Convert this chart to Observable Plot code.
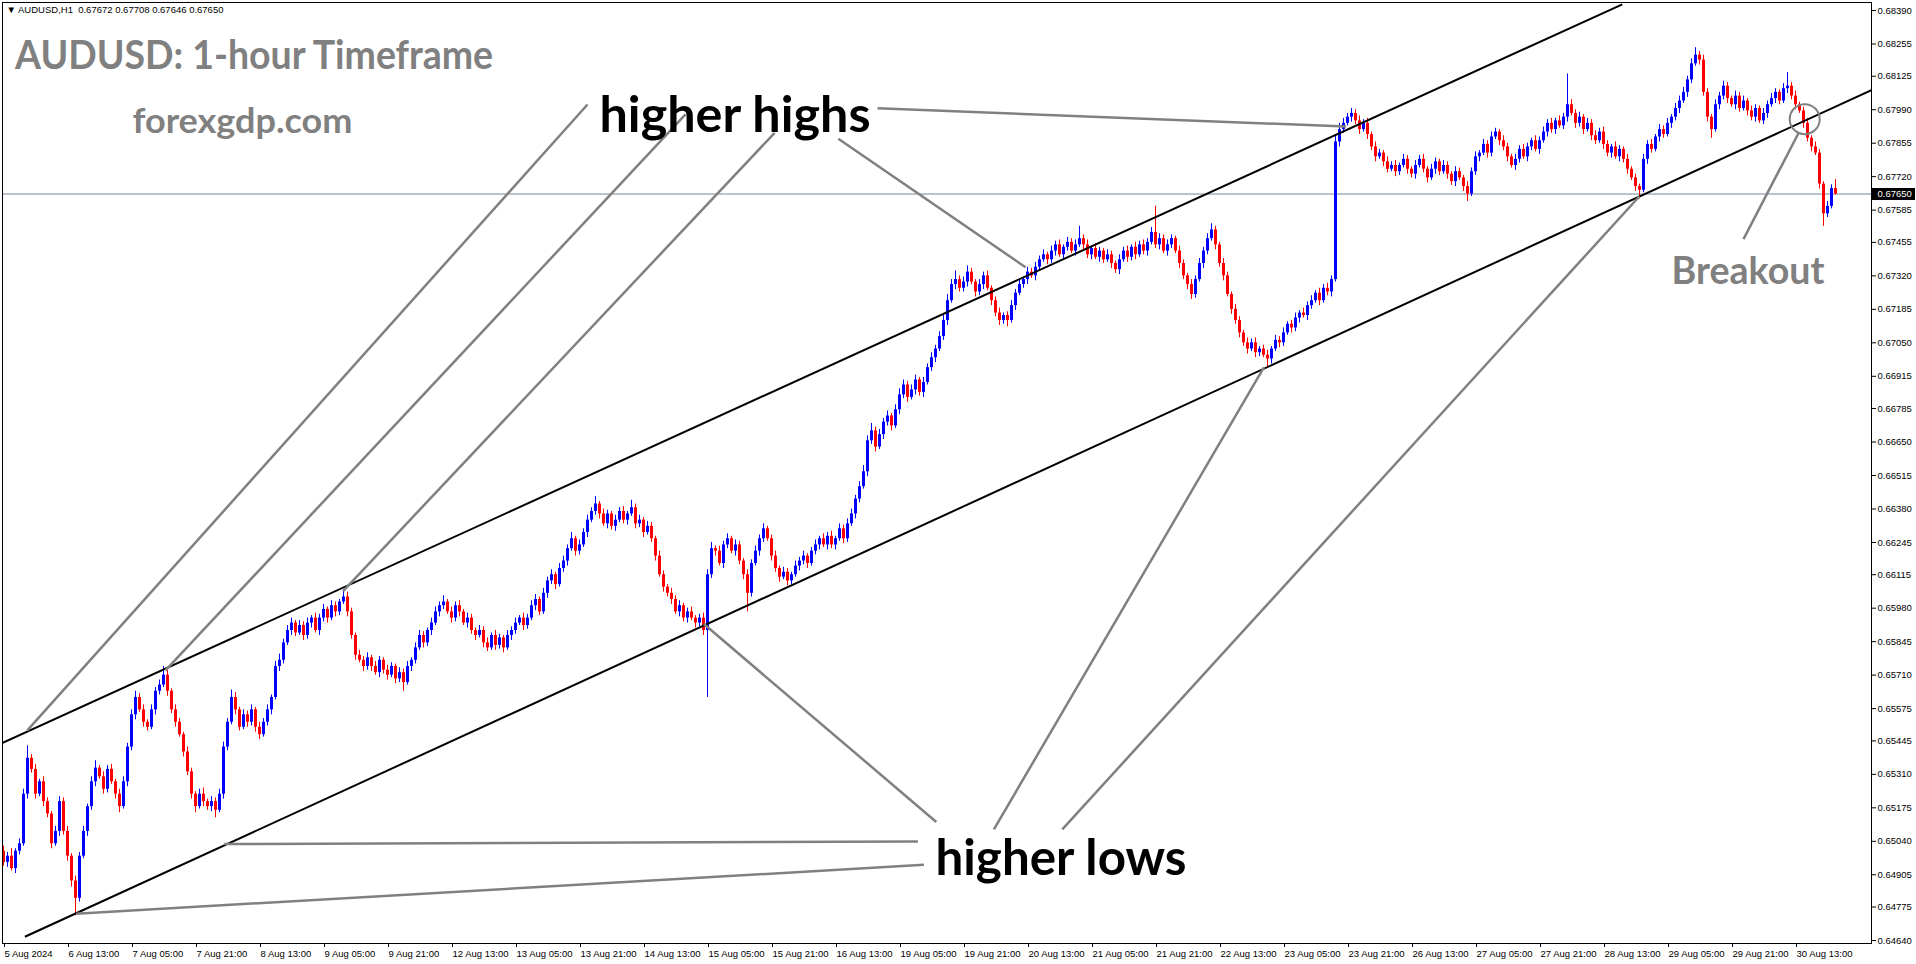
<!DOCTYPE html>
<html><head><meta charset="utf-8">
<script src="https://cdn.jsdelivr.net/npm/d3@7"></script>
<script src="https://cdn.jsdelivr.net/npm/@observablehq/plot@0.6"></script>
<style>html,body{margin:0;padding:0;background:#fff;overflow:hidden}#chart svg{display:block}</style>
</head><body><div id="chart"></div>
<script>
// ---------- DATA (prices in pips = price × 10 000) ----------
const symbolHeader = "\u25BC AUDUSD,H1  0.67672 0.67708 0.67646 0.67650";
const firstOpen = 6500;
// hourly closes, bar 0 = 5 Aug 21:00
const closes = [
6495.5,6498,6493,6500,6503,6523,6537.5,6533,6523,6528,6520,6515,6503,6508,6520,6508,6498,6488,6481,6498,
6508,6518,6528,6533.5,6530,6525,6533,6528,6523,6518,6528,6542,6555,6562,6557,6552,6550,6557,6564.5,6567,
6571,6564.5,6557,6552,6547,6540,6532,6523,6518,6523,6520,6518,6520,6516.5,6523,6542,6552,6562,6557,6550,
6555,6552,6557,6550,6547,6552,6557,6562,6574.5,6577,6584,6589,6592,6588,6591,6587,6592,6594,6589,6594,
6597.5,6594,6599,6596.5,6600.5,6602.5,6596.5,6587,6579,6577,6574.5,6578,6574.5,6572,6577,6573,6571,6574.5,6569.5,6572,
6568,6574.5,6577,6582,6587,6584,6589,6592,6596.5,6599,6600.5,6596.5,6594,6599,6596.5,6592,6594,6589,6587,6589,
6584,6582,6587,6583,6586,6582,6587,6589,6592,6594,6591,6594,6599,6601.5,6596.5,6604,6609,6611.5,6607.5,6614,
6617,6622,6626,6621,6623.5,6628.5,6633.5,6637,6640,6636,6632,6636,6631,6633.5,6637,6633.5,6636,6638.5,6632,6633.5,
6628.5,6631,6626,6619,6611.5,6606.5,6604,6601.5,6596.5,6599,6594,6596.5,6594,6592,6594,6589,6611.5,6622,6621,6616,
6623.5,6626,6621,6623.5,6617,6611.5,6604,6616,6621,6626,6630,6626,6619,6614,6610.5,6612.5,6609,6611.5,6615,6617,
6619,6616,6621,6623.5,6626,6623.5,6627,6623.5,6626,6630,6626,6632,6636,6642,6647,6653,6665.5,6669.5,6663,6668,
6673,6675.5,6671.5,6678,6684,6688,6683,6686,6690,6685,6689,6695,6699,6702.5,6707.5,6714,6722,6728.5,6730.5,6727,
6729.5,6733.5,6729.5,6725.5,6728.5,6732,6727,6722,6717,6714,6716,6714,6720,6725,6728.5,6730.5,6733.5,6732,6735.5,6738.5,
6740.5,6738.5,6742,6744.5,6740.5,6743.5,6745.5,6742,6744.5,6747,6744.5,6740.5,6743,6739.5,6742,6738.5,6740.5,6737,6734.5,6738.5,
6742,6739.5,6743.5,6740.5,6744.5,6742,6745.5,6749.5,6744.5,6747,6742,6744.5,6747,6742,6737,6732,6728.5,6724.5,6730.5,6737,
6742,6747,6750.5,6744.5,6737,6732,6724.5,6718.5,6714,6709,6705,6702.5,6705,6701,6702.5,6700,6698.5,6702.5,6706,6705,
6709,6712.5,6711,6715,6717,6716,6720,6722,6725,6722,6727,6725.5,6730.5,6786,6791,6793.5,6796,6797.5,6794.5,6791,
6793.5,6789,6784,6780,6781.5,6778,6775,6776.5,6774,6776.5,6779,6775,6773,6776.5,6779,6775,6771.5,6775,6778,6774,
6776.5,6773,6770,6774,6771.5,6768,6765,6774,6780,6781.5,6785,6781.5,6788,6790,6786.5,6784,6780,6776.5,6779,6783,
6780,6784,6786.5,6783,6786.5,6790,6793.5,6791,6794.5,6792.5,6796,6801,6797.5,6793.5,6796,6791,6793.5,6788.5,6786.5,6790,
6785,6781.5,6784,6780,6783,6779,6775,6771.5,6768,6766.5,6779,6785,6783,6788,6791,6789,6793.5,6796,6799.5,6802.5,
6806,6811,6817.5,6821,6819,6806,6796,6791,6801,6804.5,6808.5,6803.5,6801,6804.5,6799.5,6802.5,6798.5,6796,6799.5,6794.5,
6797.5,6801,6803.5,6806,6802.5,6807.5,6808.5,6804.5,6801,6798.5,6793.5,6787.5,6784,6781.5,6769,6757,6760,6767.2,6765
];
// upper wick above the body (pips)
const upperWicks = [
2,1.5,3,1,2,2,5,1.5,2,1,2,1.5,1,2,2,1.5,2,1,2,1.5,
2,1,2,3,1,2,1.5,2,1,2,2,1.5,2,2.5,1.5,2,1,2,1.5,2,
3.5,2,1,2,1.5,1,2,1.5,1,2,2.5,1,2,1.5,2,2,1.5,3,2,1,
2,1.5,2,1,2,1.5,2,1,2,2.5,1.5,2,2,1,2,1.5,2,1,2,1.5,
2,1,2,1.5,1,3,2,1.5,1,2,1.5,2,1,2,1.5,1,2,1.5,1,2,
1.5,2,1,2,2,1.5,1,2,2,1.5,2.5,1,2,1.5,2,1,2,1.5,1,2,
1.5,2,1,2,1.5,1,2,1.5,2,1,2,1.5,2,2,1,2,1.5,2,1,2,
2,1.5,2.5,1,2,1.5,2,1.5,3,1,2,1.5,1,2,1.5,2,1,3,1.5,2,
1,2,1.5,1,2,1.5,1,2,1.5,2,1,1.5,2,1,1.5,2,2,2.5,1,2,
1.5,2,1,2,1.5,1,2,1.5,2,1.5,2,1,1.5,2,1,2,1.5,1,2,1.5,
2,1,1.5,2,1,2,1.5,2,1,2,1.5,2,2,1.5,2,2.5,2,3,1.5,2,
1.5,2,1,2,2.5,2,1.5,2,2,1,2,1.5,2,1.5,2,2,2.5,2,3.5,1.5,
2,2.5,1.5,1,2,1.5,2,1,1.5,2,1,1.5,2,1.5,2,1,2,1.5,2,1.5,
2,1,2,1.5,2,1,2,1.5,2,5,1.5,2,1,2,1.5,1,2,1.5,1,2,
1.5,2,1,2,1.5,2,1.5,2,10.5,2,1.5,2,1.5,1,2,1.5,1,2,1.5,2,
1.5,2,2.5,1.5,1,2,1.5,1,2,1.5,1,2,1.5,2,1,1.5,2,1,2,1.5,
2,1,1.5,2,1,2,1.5,2,1,2,1.5,2,1.5,3,2.5,2,1.5,2,1.5,2,
1.5,2,1,2,1.5,1,2,1.5,2,1,2,1.5,1,2,1.5,2,1,2,1.5,1,
2,1.5,1,2,1.5,1,2,1.5,2,1,2,1.5,2,1.5,1,2,1.5,1,2,1.5,
2,1.5,1,2,1.5,2,1.5,2,1,2,1.5,12.4,2,1.5,2,1,2,1.5,2,1.5,
2,1.5,1,2,1.5,1,2,1,1.5,1,2,1.5,2,1,2,1.5,2,1,2,2,
2,1.5,2,3,1.5,2,1.5,1,2,1.5,2,1.5,1,2,1.5,2,1,2,1.5,1,
2,1.5,2,1.5,1,2,5.5,1.5,2,1,1.5,2,1,2,1.5,1,2,1.5,3.6
];
// lower wick below the body (pips)
const lowerWicks = [
1.5,2,1,2,1.5,1,2,1.5,2,1,2,1.5,2,1,2,1.5,2,2.5,7,1.5,
1,2,1.5,2,1,2,1.5,1,2,2.5,1,2,1.5,2,1,2,1.5,1,2,1.5,
1,2,1.5,2,1,2,1.5,2,2.5,1,2,1.5,2,3,1,2,1.5,1,2,1.5,
1,2,1.5,2,2,1,1.5,2,1,2,1.5,1,2,1.5,1,2,1.5,2,1,2,
1.5,2,1,2,1.5,1,2,1.5,2,1,2,1.5,2,1,2,1.5,2,1,2,1.5,
3.5,1,2,1.5,1,2,1.5,2,1,2,1.5,1,2,1.5,2,1,2,1.5,2,1,
2,1.5,1,2,1.5,2,1,2,1.5,1,2,1.5,1,2,1.5,1,2,1.5,2,1,
1.5,2,1,2,1.5,1,2,1,1.5,2,1,2,1.5,2,1,1.5,2,1,2,1.5,
2,1,1.5,2,1,2,1.5,2,1,2,1.5,2,1,2,1.5,2,27,1.5,2,1,
2,1.5,1,2,1.5,2,7.5,1.5,1,2,1.5,1,2,1.5,2,1,2,1.5,1,2,
1.5,2,1,1.5,2,1,2,1.5,2,1,2,1.5,1,2,1.5,1,2,1.5,2,1,
2,1.5,2,1,2,1.5,2,1,2,1.5,2,1,1.5,2,1,1.5,2,1,2,1.5,
1.5,2,1,2,1.5,2,1,2,1.5,2,1.5,2.5,1,2,1,1.5,2,1,2,1.5,
1,2,1.5,2,1,2,1.5,1,2,1,2,1.5,2,1,2,1.5,1,2,1.5,2,
1,2,1.5,2,1,1.5,2,1,1.5,2,1,2,1.5,1,2,1.5,2,2,1.5,1,
2,1.5,1,2,1.5,2,1,2,1.5,2,1.5,2,1,2,1.5,1,3.5,2,1,2,
1.5,1,2,1.5,2,1,2,1.5,1,2,1,1.5,2,1,2,1.5,1,2,1.5,2,
1,2,1.5,2,1,2,1.5,1,2,1.5,1,2,1.5,2,1,1.5,2,1,2,1.5,
1,2,1.5,2,1,2,3,1,1.5,2,1,2,1.5,1,2,1.5,2,1,2,1.5,
1,2,1.5,1,2,1,2,1.5,2,1,1.5,2,1,2,1.5,2,1,2,1.5,1,
2,1.5,2,1,2,1.5,2,1,2,3.5,1,2,1.5,1,2,1.5,1,2,1.5,2,
1,2,1.5,1,2,1.5,2,3.5,1,2,1.5,2,1,2,1.5,1,2,1.5,2,1,
1.5,2,1,2,1.5,1,2,1.5,2,1,2,1.5,2,1,2,5,1.5,1,0.4
];
const xTickBars = [0,16,32,48,64,80,96,112,128,144,160,176,192,208,224,240,256,272,288,304,320,336,352,368,384,400,416,432,448];
const xTickLabels = ["5 Aug 2024","6 Aug 13:00","7 Aug 05:00","7 Aug 21:00","8 Aug 13:00","9 Aug 05:00","9 Aug 21:00","12 Aug 13:00","13 Aug 05:00","13 Aug 21:00","14 Aug 13:00","15 Aug 05:00","15 Aug 21:00","16 Aug 13:00","19 Aug 05:00","19 Aug 21:00","20 Aug 13:00","21 Aug 05:00","21 Aug 21:00","22 Aug 13:00","23 Aug 05:00","23 Aug 21:00","26 Aug 13:00","27 Aug 05:00","27 Aug 21:00","28 Aug 13:00","29 Aug 05:00","29 Aug 21:00","30 Aug 13:00"];
const yTickValues = [0.68390,0.68255,0.68125,0.67990,0.67855,0.67720,0.67585,0.67455,0.67320,0.67185,0.67050,0.66915,0.66785,0.66650,0.66515,0.66380,0.66245,0.66115,0.65980,0.65845,0.65710,0.65575,0.65445,0.65310,0.65175,0.65040,0.64905,0.64775,0.64640];
const lastPrice = 0.67650;
// trend lines: [bar1, pips1, bar2, pips2]
const channelLines = [[-0.76,6543.3,404.7,6841.5],[5.35,6465.5,467,6806.9]];
const higherHighPointers = [[146.0,6801.1,5.96,6548.7],[170.5,6797.1,40.5,6572.9],[192.8,6789.7,84.9,6604.9],[208.7,6787.3,255.5,6735.5],[218.5,6799.6,335.6,6792.2]];
const higherLowPointers = [[228.6,6503.9,55.2,6502.9],[230.1,6494.5,18.2,6474.8],[233.2,6511.8,175.1,6591.6],[247.6,6508.8,315.1,6695.1],[264.7,6508.8,409.0,6764.1]];
const breakoutPointer = [[435.0,6746.8,448.8,6789.7]];
const breakoutCircle = [[450.3,6795.2]];
// annotation texts: [text, bar (left edge), pips (middle)]
const titleTexts = [["AUDUSD: 1-hour Timeframe",2.9,6820.9],["forexgdp.com",32.25,6793.8]];
const highsText = [["higher highs",149,6796.3]];
const lowsText = [["higher lows",233,6496.7]];
const breakoutText = [["Breakout",417,6733.8]];

// ---------- BUILD ----------
const P = v => v / 1e4;
const bars = closes.map((c, i) => {
  const o = i === 0 ? firstOpen : closes[i - 1];
  return {i, open: P(o), close: P(c), high: P(Math.max(o, c) + upperWicks[i]), low: P(Math.min(o, c) - lowerWicks[i]), up: c >= o};
});
const seg = a => a.map(([x1, y1, x2, y2]) => ({x1, y1: P(y1), x2, y2: P(y2)}));
const txt = a => a.map(([t, x, y]) => ({t, x, y: P(y)}));
const BLUE = "#0000ff", RED = "#ff0000", GRAY = "#808080";
const bigFont = "Lato, 'Open Sans', 'Liberation Sans', sans-serif";

const plot = Plot.plot({
  width: 1916, height: 964,
  marginLeft: 2, marginRight: 45, marginTop: 2, marginBottom: 21,
  style: {fontFamily: "'Liberation Sans', Arial, sans-serif", fontSize: "9.5px", color: "black", background: "white", overflow: "visible"},
  x: {domain: [-0.25, 467], axis: null},
  y: {domain: [0.646279, 0.684223], axis: null},
  marks: [
    Plot.ruleY([lastPrice], {stroke: "#778899", strokeWidth: 1}),
    Plot.ruleX(bars.filter(d => d.up), {x: "i", y1: "low", y2: "high", stroke: BLUE, strokeWidth: 1}),
    Plot.ruleX(bars.filter(d => !d.up), {x: "i", y1: "low", y2: "high", stroke: RED, strokeWidth: 1}),
    Plot.ruleX(bars.filter(d => d.up), {x: "i", y1: "open", y2: "close", stroke: BLUE, strokeWidth: 3}),
    Plot.ruleX(bars.filter(d => !d.up), {x: "i", y1: "open", y2: "close", stroke: RED, strokeWidth: 3}),
    Plot.link(seg(channelLines), {x1: "x1", y1: "y1", x2: "x2", y2: "y2", stroke: "black", strokeWidth: 2, clip: true}),
    Plot.link(seg(higherHighPointers.concat(higherLowPointers, breakoutPointer)), {x1: "x1", y1: "y1", x2: "x2", y2: "y2", stroke: GRAY, strokeWidth: 2.5, clip: true}),
    Plot.dot(breakoutCircle, {x: d => d[0], y: d => P(d[1]), r: 15, stroke: GRAY, strokeWidth: 2, fill: "none"}),
    Plot.text(txt(titleTexts.slice(0,1)), {x: "x", y: "y", text: "t", fill: GRAY, fontSize: 41, fontWeight: "bold", fontFamily: bigFont, textAnchor: "start"}),
    Plot.text(txt(titleTexts.slice(1)), {x: "x", y: "y", text: "t", fill: GRAY, fontSize: 34, fontWeight: "bold", fontFamily: bigFont, textAnchor: "start"}),
    Plot.text(txt(highsText.concat(lowsText)), {x: "x", y: "y", text: "t", fill: "black", fontSize: 50, fontWeight: "bold", fontFamily: bigFont, textAnchor: "start"}),
    Plot.text(txt(breakoutText), {x: "x", y: "y", text: "t", fill: GRAY, fontSize: 38, fontWeight: "bold", fontFamily: bigFont, textAnchor: "start"}),
    Plot.text([symbolHeader], {frameAnchor: "top-left", text: d => d, dx: 4, dy: 4, lineAnchor: "top", textAnchor: "start", fill: "black"}),
    Plot.frame({stroke: "black"}),
    Plot.axisY({anchor: "right", ticks: yTickValues, tickFormat: d => d.toFixed(5), tickSize: 4, tickPadding: 2, label: null}),
    Plot.axisX({anchor: "bottom", ticks: xTickBars, tickFormat: d => xTickLabels[xTickBars.indexOf(d)], tickSize: 4, tickPadding: 3, textAnchor: "start", dx: 1, label: null}),
    Plot.ruleY([lastPrice], {x1: 467.25, x2: 478, stroke: "black", strokeWidth: 12}),
    Plot.text([lastPrice], {x: 467, y: d => d, text: d => d.toFixed(5), fill: "white", textAnchor: "start", dx: 6})
  ]
});
const fitWidths = {"AUDUSD: 1-hour Timeframe": 478, "forexgdp.com": 220, "higher highs": 271, "higher lows": 251, "Breakout": 153};
plot.querySelectorAll("text").forEach(t => {
  const w = fitWidths[t.textContent];
  if (w) { t.setAttribute("textLength", w); t.setAttribute("lengthAdjust", "spacingAndGlyphs"); }
});
document.getElementById("chart").append(plot);
</script>
</body></html>
